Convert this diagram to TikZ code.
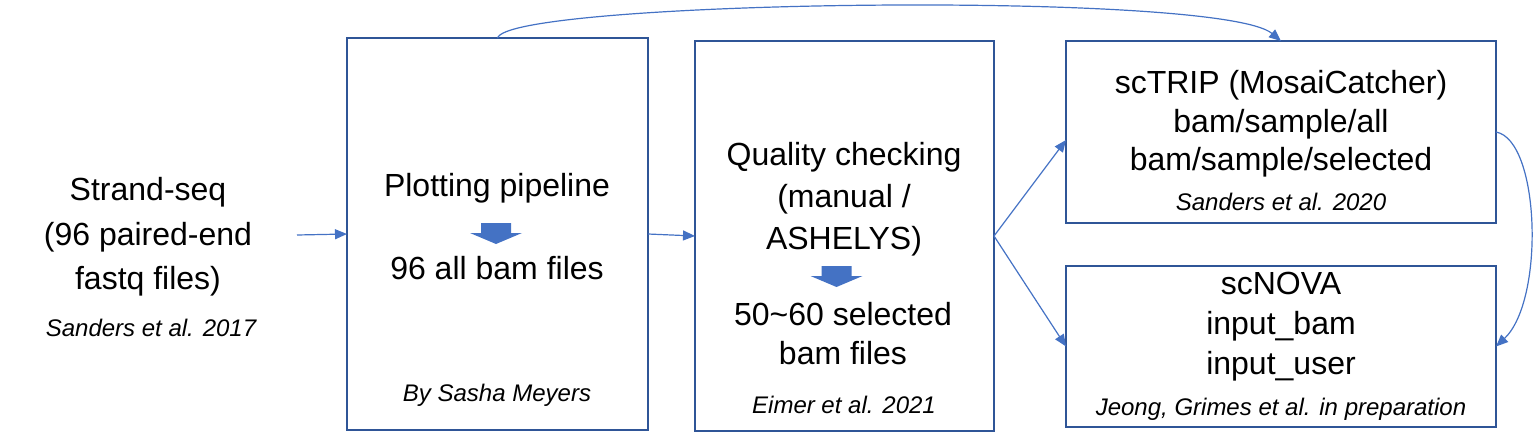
\documentclass[tikz,border=0pt]{standalone}
\usepackage{fontspec}
\setmainfont{Liberation Sans}
\usetikzlibrary{arrows.meta}
\definecolor{boxblue}{HTML}{2F5597}
\definecolor{lineblue}{HTML}{4472C4}
\tikzset{
  box/.style = {draw=boxblue, line width=1.2pt, inner sep=0pt, outer sep=0pt},
  txt/.style = {align=center, inner sep=0pt, font=\fontsize{16}{#1}\selectfont},
  txt/.default = 21pt,
  ref/.style = {inner sep=0pt, font=\fontsize{12}{14}\selectfont\itshape},
  link/.style = {draw=lineblue, line width=0.6pt, -{Triangle[length=6pt,width=5pt]}},
  fatarrow/.style = {fill=lineblue}
}
% thick down arrow inside a box, #1 = top middle point
\newcommand{\fatdown}[1]{%
  \fill[fatarrow] (#1) ++(-15,0) -- ++(30,0) -- ++(0,10) -- ++(11,0)
    -- ++(-26,11) -- ++(-26,-11) -- ++(11,0) -- cycle;}
\begin{document}
\begin{tikzpicture}[x=0.5pt, y=-0.5pt]
   \useasboundingbox (0,0) rectangle (1535,439);
   % input
   \node[txt=22.25pt] (seq) at (148,237) {Strand-seq\\(96 paired-end\\fastq files)};
   \node[ref] (seqref) at (151,328) {Sanders et al. 2017};
   \coordinate (seqout) at (297,235);
   % boxes
   \node[box, minimum width=150.5pt, minimum height=195.75pt] (plot) at (497.5,234) {};
   \node[box, minimum width=149.5pt, minimum height=195pt] (qc) at (844.5,236) {};
   \node[box, minimum width=215pt, minimum height=91pt] (trip) at (1281,132) {};
   \node[box, minimum width=215pt, minimum height=80.5pt] (nova) at (1281,346.5) {};
   % plotting pipeline
   \node[txt] (plottxt) at (497,188) {Plotting pipeline};
   \fatdown{496,223}
   \node[txt] (allbam) at (497,268) {96 all bam files};
   \node[ref] (plotref) at (497,395) {By Sasha Meyers};
   % quality checking
   \node[txt] (qctxt) at (844,199) {Quality checking\\(manual /\\ASHELYS)};
   \fatdown{836.5,266}
   \node[txt=19.5pt] (selbam) at (843,334) {50\textasciitilde60 selected\\bam files};
   \node[ref] (qcref) at (844,405) {Eimer et al. 2021};
   % scTRIP
   \node[txt=19.25pt] (triptxt) at (1281,124) {scTRIP (MosaiCatcher)\\bam/sample/all\\bam/sample/selected};
   \node[ref] (tripref) at (1281,202) {Sanders et al. 2020};
   % scNOVA
   \node[txt=20pt] (novatxt) at (1281,327) {scNOVA\\input\_bam\\input\_user};
   \node[ref] (novaref) at (1281,409) {Jeong, Grimes et al. in preparation};
   % connectors
   \draw[link] (seqout) -- (plot.west);
   \draw[link] (plot.east) -- (qc.west);
   \draw[link] (qc.east) -- ([yshift=-4pt]trip.west);
   \draw[link] (qc.east) -- (nova.west);
   \draw[link] (plot.north) .. controls (505,0) and (1220,-10) .. (trip.north);
   \draw[link] (trip.east) .. controls (1540,140) and (1545,300) .. (nova.east);
\end{tikzpicture}
\end{document}
